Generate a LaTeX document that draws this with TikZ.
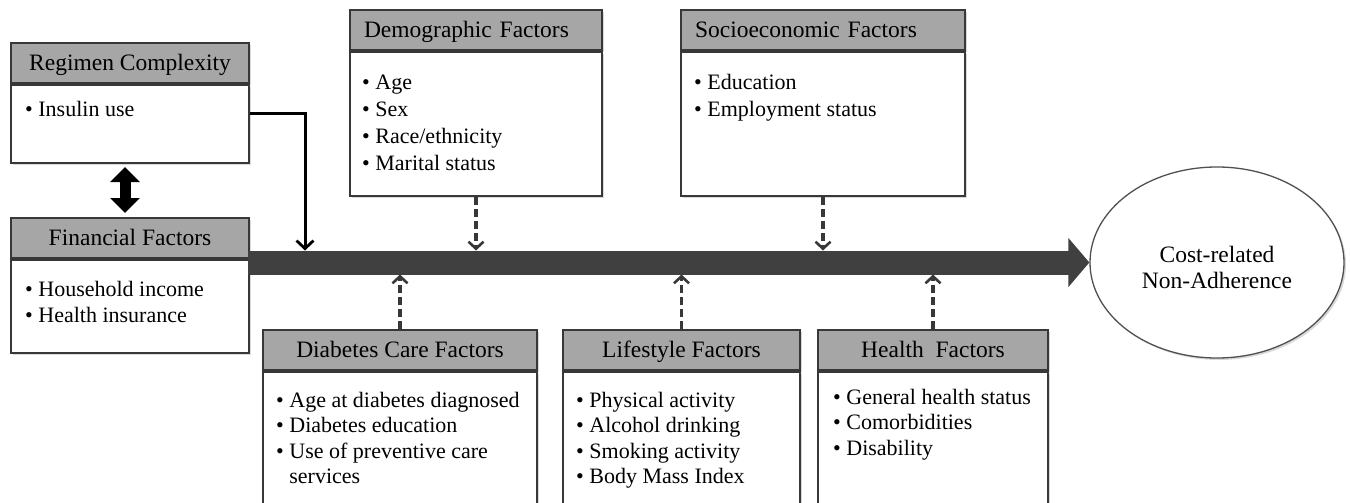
\documentclass[tikz,border=0pt]{standalone}
\usepackage{fontspec}
\setmainfont{Liberation Serif}
\usetikzlibrary{arrows.meta,shapes.geometric,shadows}

\definecolor{edge}{HTML}{383838}
\definecolor{hdrgray}{HTML}{A6A6A6}
\definecolor{shaft}{HTML}{404040}
\definecolor{ringgray}{HTML}{505050}

\newcommand\hdrfont{\fontsize{23.5}{28}\selectfont}
\newcommand\bi{\textbullet\ }
\newcommand\bcont{\phantom{\textbullet\ }}
% bulleted list, first baseline is the node's base
\newcommand\blist[2][26]{{\fontsize{22}{#1}\selectfont\begin{tabular}[t]{@{}l@{}}#2\end{tabular}}}

\tikzset{
  boxshadow/.style={drop shadow={shadow xshift=2pt, shadow yshift=-2pt, opacity=0.15, fill=black}},
  hdr/.style={draw=edge, fill=hdrgray, line width=2pt, anchor=north west,
    minimum height=40pt, inner xsep=0pt, inner ysep=0pt,
    text height=15.5pt, text depth=0pt, font=\hdrfont, boxshadow},
  hdrleft/.style={hdr, inner xsep=14pt, align=left},
  bodybox/.style={draw=edge, fill=white, line width=2pt, anchor=north west,
    inner sep=0pt, boxshadow},
  items/.style={anchor=base west, inner sep=0pt},
  infl/.style={draw=edge, line width=3.2pt, dash pattern=on 8pt off 4pt,
    -{Straight Barb[length=7pt,width=15pt,line width=2.6pt]}},
  direct/.style={draw=black, line width=3pt,
    -{Straight Barb[length=8pt,width=17pt,line width=2.8pt]}},
  mainarrow/.style={draw=shaft, line width=24pt, -{Triangle[length=21pt,width=48pt]}},
  mutual/.style={draw=black, line width=11pt,
    {Triangle[length=15pt,width=29pt]}-{Triangle[length=15pt,width=29pt]}},
}

\begin{document}
\begin{tikzpicture}[x=1pt, y=-1pt]
\useasboundingbox (0,0) rectangle (1350,503);

% factor boxes: header strip and body
\node[hdr, minimum width=238pt] (regH) at (10,42) {Regimen Complexity};
\node[bodybox, minimum width=238pt, minimum height=78pt] (regB) at (regH.south west) {};

\node[hdr, minimum width=238pt] (finH) at (10,217) {Financial Factors};
\node[bodybox, minimum width=238pt, minimum height=93pt] (finB) at (finH.south west) {};

\node[hdrleft, minimum width=252pt, text width=224pt] (demH) at (349,9) {Demographic Factors};
\node[bodybox, minimum width=252pt, minimum height=144pt] (demB) at (demH.south west) {};

\node[hdrleft, minimum width=284pt, text width=256pt] (socH) at (680,9) {Socioeconomic Factors};
\node[bodybox, minimum width=284pt, minimum height=144pt] (socB) at (socH.south west) {};

\node[hdr, minimum width=274pt] (diaH) at (262,329) {Diabetes Care Factors};
\node[bodybox, minimum width=274pt, minimum height=150pt] (diaB) at (diaH.south west) {};

\node[hdr, minimum width=237pt] (lifH) at (562,329) {Lifestyle Factors};
\node[bodybox, minimum width=237pt, minimum height=150pt] (lifB) at (lifH.south west) {};

\node[hdr, minimum width=230pt] (heaH) at (817,329) {Health~ Factors};
\node[bodybox, minimum width=230pt, minimum height=150pt] (heaB) at (heaH.south west) {};

% outcome
\node[ellipse, draw=ringgray, line width=1.3pt, fill=white, minimum width=254pt,
  minimum height=191pt, boxshadow] (cost) at (1217,262.5) {};
\node[anchor=base, inner sep=0pt, font=\hdrfont] (costT) at (1217,262)
  {\begin{tabular}[t]{@{}c@{}}Cost-related\\[-2pt]Non-Adherence\end{tabular}};

% item lists
\node[items] (regL) at (25,116) {\blist{\bi Insulin use}};
\node[items] (finL) at (25,296) {\blist[26]{\bi Household income\\\bi Health insurance}};
\node[items] (demL) at (362,90) {\blist[26.7]{\bi Age\\\bi Sex\\\bi Race/ethnicity\\\bi Marital status}};
\node[items] (socL) at (694,90) {\blist[26.7]{\bi Education\\\bi Employment status}};
\node[items] (diaL) at (276,407) {\blist[25.5]{\bi Age at diabetes diagnosed\\\bi Diabetes education\\\bi Use of preventive care\\\bcont services}};
\node[items] (lifL) at (576,407) {\blist[25.5]{\bi Physical activity\\\bi Alcohol drinking\\\bi Smoking activity\\\bi Body Mass Index}};
\node[items] (heaL) at (833,404) {\blist[25.8]{\bi General health status\\\bi Comorbidities\\\bi Disability}};

% main pathway
\coordinate (shaftStart) at (248,262.5);
\coordinate (shaftTop) at (0,250.5);
\coordinate (shaftBot) at (0,274.5);
\coordinate (regIn) at (305,250.5);
\draw[mainarrow] (shaftStart) -- (cost.west);

% connectors
\draw[direct] ([yshift=11pt]regB.east) -| (regIn);
\draw[mutual] ([xshift=-5pt,yshift=-3pt]regB.south) -- ([xshift=-5pt,yshift=4pt]finH.north);
\draw[infl] (demB.south) -- (demB.south |- shaftTop);
\draw[infl] (socB.south) -- (socB.south |- shaftTop);
\draw[infl] (diaH.north) -- (diaH.north |- shaftBot);
\draw[infl] (lifH.north) -- (lifH.north |- shaftBot);
\draw[infl] (heaH.north) -- (heaH.north |- shaftBot);
\end{tikzpicture}
\end{document}
